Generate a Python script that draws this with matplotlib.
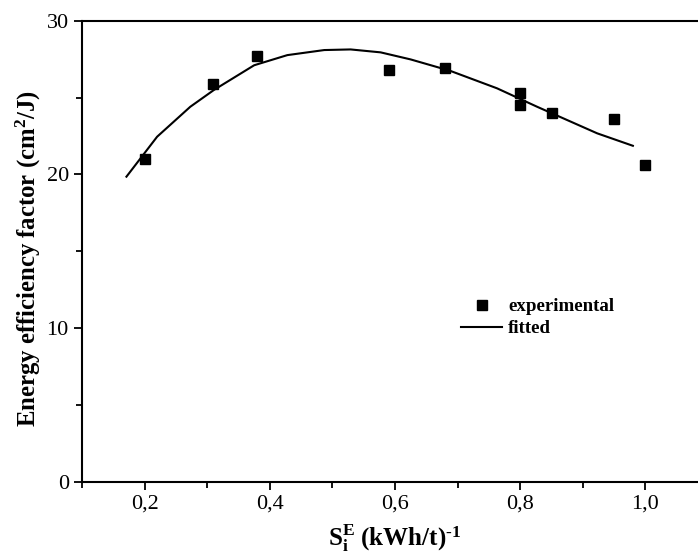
import numpy as np
import matplotlib
matplotlib.use("Agg")
import matplotlib.pyplot as plt
from matplotlib.ticker import MultipleLocator, FuncFormatter

plt.rcParams['font.family'] = ['Liberation Serif', 'DejaVu Serif']
plt.rcParams['mathtext.fontset'] = 'custom'
plt.rcParams['mathtext.rm'] = 'Liberation Serif:bold'
plt.rcParams['mathtext.bf'] = 'Liberation Serif:bold'
plt.rcParams['mathtext.it'] = 'Liberation Serif:bold'

# experimental points
exp_x = [0.20, 0.31, 0.38, 0.59, 0.68, 0.80, 0.80, 0.85, 0.95, 1.00]
exp_y = [21.0, 25.9, 27.7, 26.8, 26.9, 25.3, 24.5, 24.0, 23.6, 20.6]

# fitted curve
fit_x = [0.171, 0.22, 0.273, 0.311, 0.375, 0.428, 0.487, 0.529, 0.577,
         0.625, 0.688, 0.763, 0.827, 0.923, 0.98]
fit_y = [19.85, 22.45, 24.4, 25.5, 27.1, 27.76, 28.09, 28.13, 27.94,
         27.48, 26.74, 25.6, 24.4, 22.67, 21.86]

fig = plt.figure(figsize=(6.98, 5.56), dpi=100)
ax = fig.add_axes([82 / 698, 1 - 481.7 / 556, 626 / 698, 461 / 556])

ax.plot(fit_x, fit_y, color='black', lw=1.5, label='fitted')
ax.plot(exp_x, exp_y, 's', color='black', ms=7, label='experimental')

ax.set_xlim(0.1, 1.1)
ax.set_ylim(0, 30)
ax.xaxis.set_major_locator(MultipleLocator(0.2))
ax.xaxis.set_minor_locator(MultipleLocator(0.1))
ax.yaxis.set_major_locator(MultipleLocator(10))
ax.yaxis.set_minor_locator(MultipleLocator(5))
ax.xaxis.set_major_formatter(FuncFormatter(lambda v, p: ('%.1f' % v).replace('.', ',')))
ax.yaxis.set_major_formatter(FuncFormatter(lambda v, p: '%d' % v))
ax.tick_params(which='both', direction='out', width=1.3, labelsize=16)
ax.tick_params(which='major', length=6)
ax.tick_params(which='minor', length=4)
for s in ax.spines.values():
    s.set_linewidth(1.5)

ax.set_ylabel('Energy efficiency factor (cm$^\\mathbf{2}$/J)', fontsize=17.8,
              fontweight='bold')
ax.set_xlabel('S$_\\mathbf{i}^\\mathbf{E}$ (kWh/t)$^{\\text{-1}}$', fontsize=18,
              fontweight='bold', labelpad=6)
ax.yaxis.set_label_coords(-0.062, 0.483)

h, l = ax.get_legend_handles_labels()
leg = ax.legend([h[1], h[0]], [l[1], l[0]], loc='upper left',
                bbox_to_anchor=(0.605, 0.398), frameon=False,
                prop={'weight': 'bold', 'size': 13.6}, handlelength=2.2,
                handletextpad=0.3, labelspacing=0.25, borderpad=0,
                borderaxespad=0)

fig.savefig('out.png', dpi=100)
